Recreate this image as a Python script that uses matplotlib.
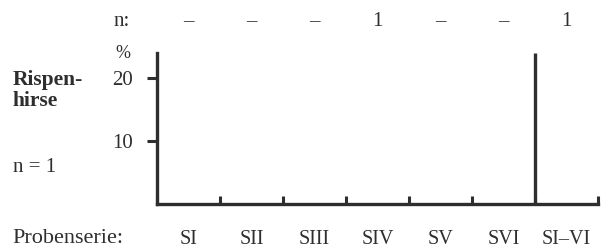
import matplotlib
matplotlib.use("Agg")
import matplotlib.pyplot as plt
import matplotlib.transforms as mtransforms
import numpy as np

# data
categories = ["SI", "SII", "SIII", "SIV", "SV", "SVI", "SI\u2013VI"]
n_values = ["\u2013", "\u2013", "\u2013", "1", "\u2013", "\u2013", "1"]
percent = [0, 0, 0, 0, 0, 0, 24]
y_ticks = [10, 20]

plt.rcParams["font.family"] = ["Liberation Serif", "DejaVu Serif"]
ink = "#2e2e2e"
fs = 15

fig = plt.figure(figsize=(6.12, 2.5), dpi=100)
ax = fig.add_axes([0.2565, 0.184, 0.7205, 0.604])

x = np.arange(len(categories))
# each value is drawn as a thin line on the left edge of its interval
for xi, p in zip(x, percent):
    if p > 0:
        ax.vlines(xi - 0.5, 0, p, color=ink, linewidth=2.4)

ax.set_xlim(-0.5, len(categories) - 0.5)
ax.set_ylim(0, 24)

for s in ["top", "right"]:
    ax.spines[s].set_visible(False)
for s in ["left", "bottom"]:
    ax.spines[s].set_color(ink)
    ax.spines[s].set_linewidth(2.4)

ax.set_xticks(x)
ax.set_xticklabels(categories, fontsize=14.5, color=ink)
ax.tick_params(axis="x", which="major", length=0, pad=19)
ax.set_xticks(np.arange(-0.5, len(categories)), minor=True)
ax.tick_params(axis="x", which="minor", direction="in", length=5.5, width=2.2, color=ink)

ax.set_yticks(y_ticks)
ax.set_yticklabels([str(t) for t in y_ticks], fontsize=fs, color=ink)
ax.tick_params(axis="y", direction="out", length=7.5, width=2.2, color=ink, pad=10)

# n row above the plot
trans = mtransforms.blended_transform_factory(ax.transData, fig.transFigure)
for xi, n in zip(x, n_values):
    ax.text(xi, 0.912, n, transform=trans, ha="center", va="center",
            fontsize=fs, color=ink)
fig.text(0.199, 0.915, "n:", ha="center", va="center", fontsize=fs, color=ink)

fig.text(0.2, 0.785, "%", ha="center", va="center", fontsize=13, color=ink)
fig.text(0.021, 0.638, "Rispen-\nhirse", ha="left", va="center", fontsize=15.5,
         fontweight="bold", color=ink, linespacing=1.12)
fig.text(0.021, 0.332, "n = 1", ha="left", va="center", fontsize=fs, color=ink)
fig.text(0.021, 0.046, "Probenserie:", ha="left", va="center", fontsize=16, color=ink)

fig.savefig("out.png", dpi=100)
